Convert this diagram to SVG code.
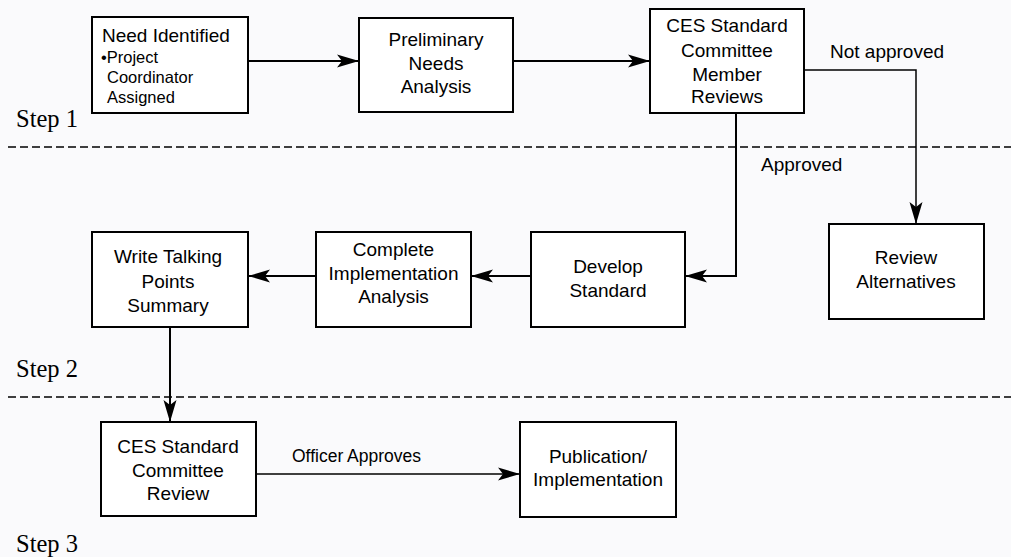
<svg xmlns="http://www.w3.org/2000/svg" width="1011" height="557" viewBox="0 0 1011 557">
<defs>
<style>
.box{fill:#ffffff;stroke:#000;stroke-width:2}
.t{font-family:"Liberation Sans",Arial,sans-serif;font-size:19px;fill:#000;text-anchor:middle}
.ts{font-family:"Liberation Sans",Arial,sans-serif;font-size:16.5px;fill:#000}
.lbl{font-family:"Liberation Sans",Arial,sans-serif;font-size:19px;fill:#000}
.step{font-family:"Liberation Serif","Times New Roman",serif;font-size:24.5px;fill:#000}
.c{fill:none;stroke:#000;stroke-width:2}
.cthin{fill:none;stroke:#000;stroke-width:1.5}
.dash{fill:none;stroke:#000;stroke-width:1.5;stroke-dasharray:8 4}
</style>
<marker id="ah" markerUnits="userSpaceOnUse" markerWidth="24" markerHeight="16" refX="22" refY="8" orient="auto">
<path d="M0,1.5 L22,8 L0,14.5 L5,8 Z" fill="#000"/>
</marker>
</defs>
<rect width="1011" height="557" fill="#fafafc"/>

<g id="dividers">
<line class="dash" x1="8" y1="147" x2="1011" y2="147"/>
<line class="dash" x1="8" y1="397" x2="1011" y2="397"/>
</g>

<g id="steps">
<text class="step" x="16" y="127">Step 1</text>
<text class="step" x="16" y="377">Step 2</text>
<text class="step" x="16" y="552">Step 3</text>
</g>

<g id="connectors">
<line class="c" x1="248" y1="61" x2="359" y2="61" marker-end="url(#ah)"/>
<line class="c" x1="513" y1="61" x2="650" y2="61" marker-end="url(#ah)"/>
<polyline class="cthin" points="804,70 916,70 916,224" marker-end="url(#ah)"/>
<polyline class="c" points="736,113 736,276 685,276" marker-end="url(#ah)"/>
<line class="c" x1="531" y1="276" x2="471" y2="276" marker-end="url(#ah)"/>
<line class="c" x1="316" y1="276" x2="248" y2="276" marker-end="url(#ah)"/>
<line class="c" x1="170" y1="327" x2="170" y2="422" marker-end="url(#ah)"/>
<line class="cthin" x1="256" y1="474" x2="520" y2="474" marker-end="url(#ah)"/>
<text class="lbl" x="830" y="58">Not approved</text>
<text class="lbl" x="761" y="171">Approved</text>
<text class="lbl" x="292" y="462" style="font-size:17.5px">Officer Approves</text>
</g>

<g id="need-identified">
<rect class="box" x="92" y="17" width="156" height="96"/>
<text class="lbl" x="102" y="42">Need Identified</text>
<text class="ts" x="101" y="63">•Project</text>
<text class="ts" x="107" y="83">Coordinator</text>
<text class="ts" x="107" y="103">Assigned</text>
</g>

<g id="preliminary-needs-analysis">
<rect class="box" x="359" y="18" width="154" height="94"/>
<text class="t" x="436" y="46">Preliminary</text>
<text class="t" x="436" y="70">Needs</text>
<text class="t" x="436" y="93">Analysis</text>
</g>

<g id="ces-member-reviews">
<rect class="box" x="650" y="9" width="154" height="104"/>
<text class="t" x="727" y="32">CES Standard</text>
<text class="t" x="727" y="57">Committee</text>
<text class="t" x="727" y="81">Member</text>
<text class="t" x="727" y="103">Reviews</text>
</g>

<g id="review-alternatives">
<rect class="box" x="829" y="224" width="155" height="95"/>
<text class="t" x="906" y="264">Review</text>
<text class="t" x="906" y="288">Alternatives</text>
</g>

<g id="develop-standard">
<rect class="box" x="531" y="232" width="154" height="95"/>
<text class="t" x="608" y="273">Develop</text>
<text class="t" x="608" y="297">Standard</text>
</g>

<g id="complete-implementation-analysis">
<rect class="box" x="316" y="232" width="155" height="95"/>
<text class="t" x="393.5" y="256">Complete</text>
<text class="t" x="393.5" y="280">Implementation</text>
<text class="t" x="393.5" y="303">Analysis</text>
</g>

<g id="write-talking-points">
<rect class="box" x="92" y="232" width="156" height="95"/>
<text class="t" x="168" y="263">Write Talking</text>
<text class="t" x="168" y="288">Points</text>
<text class="t" x="168" y="312">Summary</text>
</g>

<g id="ces-committee-review">
<rect class="box" x="101" y="422" width="155" height="94"/>
<text class="t" x="178" y="453">CES Standard</text>
<text class="t" x="178" y="477">Committee</text>
<text class="t" x="178" y="500">Review</text>
</g>

<g id="publication-implementation">
<rect class="box" x="520" y="422" width="156" height="95"/>
<text class="t" x="598" y="463">Publication/</text>
<text class="t" x="598" y="486">Implementation</text>
</g>
</svg>
